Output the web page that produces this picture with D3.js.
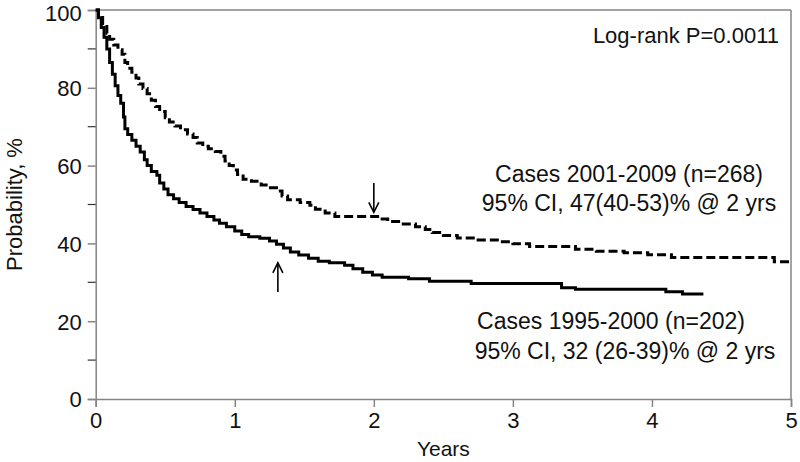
<!DOCTYPE html>
<html>
<head>
<meta charset="utf-8">
<script src="https://cdn.jsdelivr.net/npm/d3@7"></script>
<style>
  body { margin: 0; background: #fff; }
  svg text { font-family: "Liberation Sans", Arial, sans-serif; fill: #111; }
</style>
</head>
<body>
<div id="chart-container"></div>
<script>
// Kaplan-Meier steps: [years, probability %]
const cases1995 = [
  [0,100],[0.02,98],[0.04,95.5],[0.06,93],[0.08,90],[0.10,86.5],[0.12,83.5],[0.14,80.5],
  [0.16,78],[0.18,76],[0.20,72.5],[0.21,69.5],[0.23,68],[0.26,66.5],[0.29,65],[0.32,63.5],
  [0.35,61.5],[0.37,60],[0.40,58.5],[0.44,57.5],[0.46,55.5],[0.49,54],[0.52,52.5],[0.56,51.5],
  [0.60,50.5],[0.65,49.5],[0.70,48.7],[0.75,47.8],[0.80,46.9],[0.85,46],[0.89,45.2],[0.94,44.3],
  [1.00,43.2],[1.05,42.3],[1.10,41.7],[1.18,41.3],[1.25,40.6],[1.30,39.8],[1.35,38.8],[1.40,37.8],
  [1.46,37.0],[1.53,36.2],[1.60,35.4],[1.68,35.0],[1.79,34.4],[1.85,33.5],[1.92,32.6],[1.99,31.9],
  [2.06,31.3],[2.25,30.9],[2.40,30.3],[2.70,29.7],[3.35,28.6],[3.45,28.2],[4.10,27.6],[4.22,27.0],
  [4.37,27.0]
];

const cases2001 = [
  [0,100],[0.02,98.5],[0.05,96.5],[0.08,94],[0.10,92.5],[0.13,91],[0.16,89.8],[0.19,88.6],
  [0.21,86.5],[0.23,85],[0.26,84],[0.29,82.5],[0.31,81],[0.34,79.8],[0.37,78.5],[0.40,76.8],
  [0.43,75.2],[0.46,73.9],[0.50,72.3],[0.53,71.2],[0.57,70.2],[0.61,69.2],[0.66,68.1],[0.70,67.2],
  [0.73,65.8],[0.77,65],[0.81,64.3],[0.86,63.6],[0.90,62.4],[0.93,61.2],[0.96,60],[0.99,58.9],
  [1.02,57.7],[1.06,56.5],[1.12,56],[1.19,55],[1.24,54.3],[1.30,53.5],[1.34,52.2],[1.38,51.2],
  [1.47,50.5],[1.54,49.8],[1.58,48.8],[1.65,47.8],[1.72,46.9],[2.06,46.3],[2.10,45.6],[2.20,45.0],
  [2.30,44.3],[2.37,43.6],[2.42,42.8],[2.50,42.0],[2.60,41.4],[2.75,40.9],[2.90,40.4],[3.00,39.9],
  [3.12,39.2],[3.45,38.5],[3.60,38.0],[3.80,37.6],[3.97,37.1],[4.14,36.4],[4.88,35.3],[4.99,35.3]
];

const xTicks = [0, 1, 2, 3, 4, 5];
const yTicks = [0, 20, 40, 60, 80, 100];
const yMinorTicks = [10, 30, 50, 70, 90];

// arrows: [years, from %, to %]
const arrows = [[2.0, 55.5, 48], [1.31, 27.5, 35]];

const notes2001 = ["Cases 2001-2009 (n=268)", "95% CI, 47(40-53)% @ 2 yrs"];
const notes1995 = ["Cases 1995-2000 (n=202)", "95% CI, 32 (26-39)% @ 2 yrs"];
const logRank = "Log-rank P=0.0011";

const W = 800, H = 462;
const margin = { top: 10, right: 9, bottom: 63, left: 95.7 };

const svg = d3.select("#chart-container").append("svg")
  .attr("width", W)
  .attr("height", H);

const x = d3.scaleLinear().domain([0, 5]).range([margin.left, W - margin.right]);
const y = d3.scaleLinear().domain([0, 100]).range([H - margin.bottom, margin.top]);

const axisColor = "#858585";

// frame top + right
svg.append("line")
  .attr("x1", x(0)).attr("x2", x(5)).attr("y1", y(100)).attr("y2", y(100))
  .attr("stroke", axisColor).attr("stroke-width", 1.5);
svg.append("line")
  .attr("x1", x(5)).attr("x2", x(5)).attr("y1", y(100)).attr("y2", y(0))
  .attr("stroke", axisColor).attr("stroke-width", 1.5);

// y axis
const yAxis = svg.append("g")
  .attr("transform", "translate(" + x(0) + ",0)")
  .call(d3.axisLeft(y).tickValues(yTicks).tickSize(8).tickPadding(6).tickFormat(d3.format("d")));
yAxis.selectAll("text").style("font-size", "22px")
  .attr("dy", d => d == 100 ? "0.47em" : "0.36em");

svg.append("g")
  .selectAll("line")
  .data(yMinorTicks).enter()
  .append("line")
  .attr("x1", x(0) - 8).attr("x2", x(0))
  .attr("y1", d => y(d)).attr("y2", d => y(d))
  .attr("stroke", "#333").attr("stroke-width", 1.2);

// x axis
const xAxis = svg.append("g")
  .attr("transform", "translate(0," + y(0) + ")")
  .call(d3.axisBottom(x).tickValues(xTicks).tickSize(8).tickPadding(5).tickFormat(d3.format("d")));
xAxis.selectAll("text").style("font-size", "22px");

svg.selectAll(".domain, .tick line")
  .attr("stroke", axisColor).attr("stroke-width", 1.5);

// axis titles
svg.append("text")
  .attr("x", (x(0) + x(5)) / 2)
  .attr("y", 456)
  .attr("text-anchor", "middle")
  .style("font-size", "21px")
  .text("Years");

svg.append("text")
  .attr("transform", "translate(22," + ((y(0) + y(100)) / 2) + ") rotate(-90)")
  .attr("text-anchor", "middle")
  .style("font-size", "22px")
  .text("Probability, %");

// curves
const line = d3.line()
  .x(d => x(d[0]))
  .y(d => y(d[1]))
  .curve(d3.curveStepAfter);

svg.append("path")
  .datum(cases1995)
  .attr("fill", "none")
  .attr("stroke", "#000")
  .attr("stroke-width", 3)
  .attr("d", line);

svg.append("path")
  .datum(cases2001)
  .attr("fill", "none")
  .attr("stroke", "#000")
  .attr("stroke-width", 3)
  .attr("stroke-dasharray", "9,4")
  .attr("d", line);

// arrows
const arrowG = svg.append("g").attr("stroke", "#000").attr("stroke-width", 1.6).attr("fill", "none");
arrows.forEach(a => {
  let xa = x(a[0]), y1 = y(a[1]), y2 = y(a[2]);
  let dir = y2 > y1 ? 1 : -1;
  arrowG.append("line").attr("x1", xa).attr("x2", xa).attr("y1", y1).attr("y2", y2);
  arrowG.append("path")
    .attr("d", "M" + (xa - 5) + "," + (y2 - dir * 10) + "L" + xa + "," + y2 + "L" + (xa + 5) + "," + (y2 - dir * 10));
});

// annotations
svg.append("text")
  .attr("x", 779).attr("y", 43)
  .attr("text-anchor", "end")
  .style("font-size", "22px")
  .text(logRank);

svg.append("text").attr("x", 629).attr("y", 182).attr("text-anchor", "middle")
  .style("font-size", "23px").text(notes2001[0]);
svg.append("text").attr("x", 629).attr("y", 211).attr("text-anchor", "middle")
  .style("font-size", "23px").text(notes2001[1]);
svg.append("text").attr("x", 611).attr("y", 329).attr("text-anchor", "middle")
  .style("font-size", "23px").text(notes1995[0]);
svg.append("text").attr("x", 625).attr("y", 359).attr("text-anchor", "middle")
  .style("font-size", "23px").text(notes1995[1]);
</script>
</body>
</html>
